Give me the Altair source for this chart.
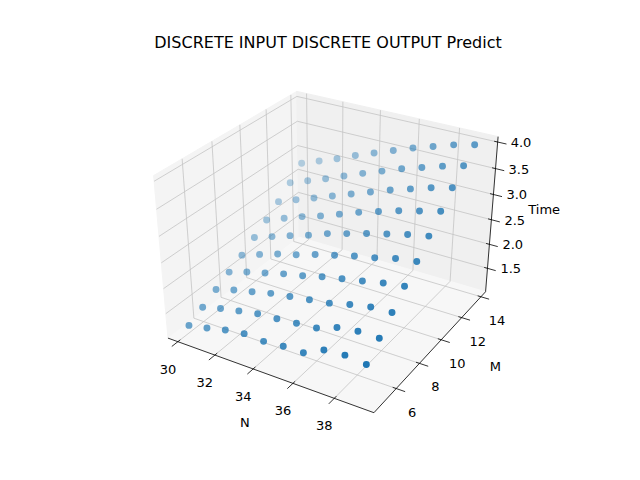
import altair as alt
import pandas as pd
import numpy as np

N_vals = [30, 31, 32, 33, 34, 35, 36, 37, 38, 39]
M_vals = [5, 6, 7, 8, 9, 10, 11, 12, 13, 14]
time_rows = [
    [1.15, 1.23, 1.32, 1.38, 1.36, 1.40, 1.41, 1.60, 1.64, 1.60],
    [1.30, 1.40, 1.48, 1.55, 1.58, 1.62, 1.66, 1.80, 1.86, 1.86],
    [1.45, 1.56, 1.65, 1.74, 1.80, 1.86, 1.92, 2.02, 2.10, 2.12],
    [1.60, 1.72, 1.82, 1.92, 2.00, 2.10, 2.18, 2.26, 2.34, 2.40],
    [1.75, 1.88, 2.00, 2.10, 2.22, 2.32, 2.42, 2.50, 2.60, 2.66],
    [1.92, 2.05, 2.18, 2.30, 2.44, 2.55, 2.66, 2.76, 2.86, 2.94],
    [2.10, 2.24, 2.38, 2.50, 2.64, 2.78, 2.90, 3.02, 3.12, 3.22],
    [2.30, 2.44, 2.58, 2.72, 2.86, 3.00, 3.14, 3.26, 3.38, 3.48],
    [2.52, 2.66, 2.80, 2.95, 3.10, 3.24, 3.38, 3.50, 3.62, 3.72],
    [2.76, 2.90, 3.04, 3.20, 3.34, 3.48, 3.62, 3.74, 3.86, 3.95],
]
N_ticks = [30, 32, 34, 36, 38]
M_ticks = [6, 8, 10, 12, 14]
T_ticks = [1.5, 2.0, 2.5, 3.0, 3.5, 4.0]
T_labels = ["1.5", "2.0", "2.5", "3.0", "3.5", "4.0"]

NLIM = (29.45, 39.85)
MLIM = (4.2, 14.5)
TLIM = (1.0, 4.1)

W, H = 624, 464


def box(n, m, t):
    x = (n - NLIM[0]) / (NLIM[1] - NLIM[0]) * 4 - 2
    y = (m - MLIM[0]) / (MLIM[1] - MLIM[0]) * 4 - 2
    z = (t - TLIM[0]) / (TLIM[1] - TLIM[0]) * 3 - 1.5
    return x, y, z


def proj(n, m, t):
    x, y, z = box(n, m, t)
    u = 0.866 * x + 0.54 * y
    v = -0.25 * x + 0.433 * y + 0.9 * z
    w = 0.433 * x - 0.75 * y + 0.5 * z
    f = 1.0 / (1 - w / 18.5)
    return 332.0 + 58.7 * u * f - 8, 238.0 - 58.7 * v * f - 8, w


X = alt.X("px:Q", scale=alt.Scale(domain=[0, W], nice=False, zero=False), axis=None)
Y = alt.Y("py:Q", scale=alt.Scale(domain=[H, 0], nice=False, zero=False), axis=None)
X2 = alt.X2("px2:Q")
Y2 = alt.Y2("py2:Q")

n0, n1 = NLIM
m0, m1 = MLIM
t0, t1 = TLIM


def segs(lst):
    rows = []
    for (a, b) in lst:
        p = proj(*a)
        q = proj(*b)
        rows.append({"px": p[0], "py": p[1], "px2": q[0], "py2": q[1]})
    return pd.DataFrame(rows)


def poly(pts, name):
    rows = []
    for i, pt in enumerate(pts + [pts[0]]):
        p = proj(*pt)
        rows.append({"px": p[0], "py": p[1], "o": i, "pane": name})
    return rows


panes = pd.DataFrame(
    poly([(n0, m0, t0), (n0, m1, t0), (n0, m1, t1), (n0, m0, t1)], "left")
    + poly([(n0, m1, t0), (n1, m1, t0), (n1, m1, t1), (n0, m1, t1)], "back")
    + poly([(n0, m0, t0), (n1, m0, t0), (n1, m1, t0), (n0, m1, t0)], "floor")
)
pane_layers = []
for name, col in [("left", "#f4f4f4"), ("back", "#f0f0f0"), ("floor", "#f7f7f7")]:
    pane_layers.append(
        alt.Chart(panes[panes.pane == name]).mark_line(fill=col, stroke=col, strokeWidth=1)
        .encode(x=X, y=Y, order="o:Q")
    )

grid = []
for n in N_ticks:
    grid.append(((n, m0, t0), (n, m1, t0)))
    grid.append(((n, m1, t0), (n, m1, t1)))
for m in M_ticks:
    grid.append(((n0, m, t0), (n1, m, t0)))
    grid.append(((n0, m, t0), (n0, m, t1)))
for t in T_ticks:
    grid.append(((n0, m0, t), (n0, m1, t)))
    grid.append(((n0, m1, t), (n1, m1, t)))
grid_layer = alt.Chart(segs(grid)).mark_rule(color="#c4c4c4", strokeWidth=0.8).encode(x=X, y=Y, x2=X2, y2=Y2)

axes = segs([((n0, m0, t0), (n1, m0, t0)), ((n1, m0, t0), (n1, m1, t0)), ((n1, m1, t0), (n1, m1, t1))])
axis_layer = alt.Chart(axes).mark_rule(color="black", strokeWidth=0.8).encode(x=X, y=Y, x2=X2, y2=Y2)

dm = (m1 - m0) * 0.04
dn = (n1 - n0) * 0.04
ticks = []
for n in N_ticks:
    ticks.append(((n, m0 + dm * 0.4, t0), (n, m0 - dm, t0)))
for m in M_ticks:
    ticks.append(((n1 - dn * 0.4, m, t0), (n1 + dn, m, t0)))
for t in T_ticks:
    ticks.append(((n1 - dn * 0.4, m1, t), (n1 + dn, m1, t)))
tick_layer = alt.Chart(segs(ticks)).mark_rule(color="black", strokeWidth=0.8).encode(x=X, y=Y, x2=X2, y2=Y2)


def labels(items):
    rows = []
    for pt, s in items:
        p = proj(*pt)
        rows.append({"px": p[0], "py": p[1], "s": s})
    return pd.DataFrame(rows)


font = "DejaVu Sans"
nl = alt.Chart(labels([((n, m0, t0), str(n)) for n in N_ticks])).mark_text(
    font=font, fontSize=13, dx=-10, dy=28).encode(x=X, y=Y, text="s:N")
ml = alt.Chart(labels([((n1, m, t0), str(m)) for m in M_ticks])).mark_text(
    font=font, fontSize=13, dx=16, dy=24).encode(x=X, y=Y, text="s:N")
tl = alt.Chart(labels([((n1, m1, t), s) for t, s in zip(T_ticks, T_labels)])).mark_text(
    font=font, fontSize=13, dx=13, dy=1, align="left").encode(x=X, y=Y, text="s:N")

names = labels([((34.6, m0, t0), "N"), ((n1, 10.2, t0), "M"), ((n1, m1, 2.7), "Time")])
nm = alt.Chart(names.iloc[[0]]).mark_text(font=font, fontSize=13, dx=-20, dy=50).encode(x=X, y=Y, text="s:N")
mm = alt.Chart(names.iloc[[1]]).mark_text(font=font, fontSize=13, dx=52, dy=30).encode(x=X, y=Y, text="s:N")
tm = alt.Chart(names.iloc[[2]]).mark_text(font=font, fontSize=13, dx=52, dy=0).encode(x=X, y=Y, text="s:N")

pts = []
for mi, m in enumerate(M_vals):
    for ni, n in enumerate(N_vals):
        t = time_rows[mi][ni]
        px, py, w = proj(n, m, t)
        pts.append({"N": n, "M": m, "Time": t, "px": px, "py": py, "w": w})
pts = pd.DataFrame(pts)
wmin, wmax = pts.w.min(), pts.w.max()
pts["alpha"] = 0.3 + 0.7 * (pts.w - wmin) / (wmax - wmin)
pts = pts.sort_values("w")
pts["ord"] = range(len(pts))
point_layer = alt.Chart(pts).mark_circle(size=48, color="#1f77b4").encode(
    x=X, y=Y, opacity=alt.Opacity("alpha:Q", scale=None), order="ord:Q")

title = alt.Chart(pd.DataFrame({"s": ["DISCRETE INPUT DISCRETE OUTPUT Predict"]})).mark_text(
    font=font, fontSize=16).encode(x=alt.value(320), y=alt.value(35), text="s:N")

chart = alt.layer(*pane_layers, grid_layer, axis_layer, tick_layer, nl, ml, tl, nm, mm, tm,
                  point_layer, title).properties(
    width=W, height=H, padding=0, autosize=alt.AutoSizeParams(type="none")
).configure_view(stroke=None)

chart.save("out.html", embed_options={"renderer": "svg", "actions": False})
